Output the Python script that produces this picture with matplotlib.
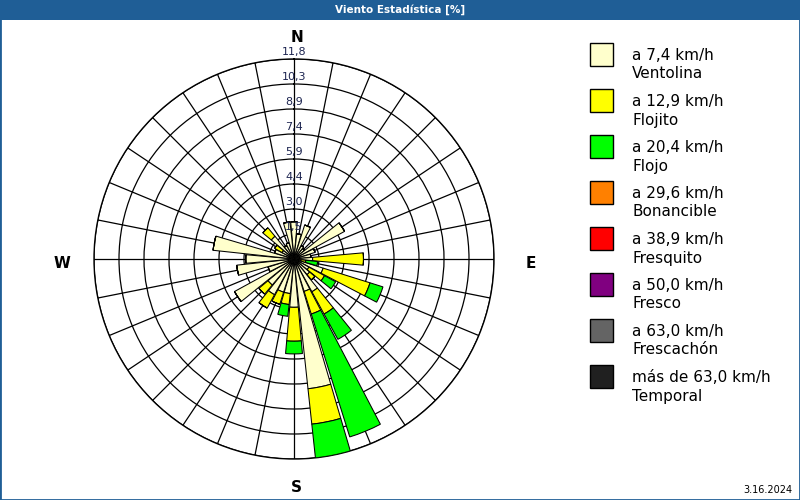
import numpy as np
import matplotlib
matplotlib.use("Agg")
import matplotlib.pyplot as plt
from matplotlib.patches import Rectangle

# 32 directions, bearing in degrees (clockwise from N)
bearings = np.arange(32) * 11.25

# percent per speed class (stacked)
ventolina = [2.2, 1.5, 2.1, 0.9, 0.8, 3.4, 1.3, 1.0,
             1.1, 0.4, 1.8, 1.0, 1.2, 2.2, 2.0, 7.7,
             2.85, 2.05, 2.05, 2.4, 2.0, 4.0, 1.6, 3.4,
             2.85, 4.8, 1.2, 0.8, 1.75, 0.9, 1.0, 2.2]
flojito = [0, 0, 0, 0, 0, 0, 0, 0,
           3.0, 0.3, 2.9, 1.05, 0.4, 1.5, 1.4, 2.1,
           2.0, 0.65, 0.75, 0.9, 0.7, 0, 0, 0,
           0, 0, 0, 0.5, 0.65, 0, 0, 0]
flojo = [0, 0, 0, 0, 0, 0, 0, 0,
         0, 0.7, 0.8, 0.75, 0, 1.7, 7.6, 2.0,
         0.75, 0.7, 0, 0, 0, 0, 0, 0,
         0, 0, 0, 0, 0, 0, 0, 0]

ring_values = [1.475, 2.95, 4.425, 5.9, 7.375, 8.85, 10.325, 11.8]
ring_labels = ["1,5", "3,0", "4,4", "5,9", "7,4", "8,9", "10,3", "11,8"]

legend_speeds = ["a 7,4 km/h", "a 12,9 km/h", "a 20,4 km/h", "a 29,6 km/h",
                 "a 38,9 km/h", "a 50,0 km/h", "a 63,0 km/h", "más de 63,0 km/h"]
legend_names = ["Ventolina", "Flojito", "Flojo", "Bonancible",
                "Fresquito", "Fresco", "Frescachón", "Temporal"]
legend_colors = ["#FFFFCC", "#FFFF00", "#00FF00", "#FF8000",
                 "#FF0000", "#800080", "#646464", "#202020"]

title_blue = "#1f5e96"

fig = plt.figure(figsize=(8, 5), dpi=100)
fig.patch.set_facecolor("white")

# title bar and frame
fig.patches.append(Rectangle((0, 0.96), 1, 0.04, transform=fig.transFigure,
                             facecolor=title_blue, edgecolor="none", zorder=0))
fig.patches.append(Rectangle((0, 0), 1, 1, transform=fig.transFigure,
                             fill=False, edgecolor=title_blue, linewidth=2, zorder=5))
fig.text(0.5, 0.98, "Viento Estadística [%]", color="white", fontsize=7.5,
         fontweight="bold", ha="center", va="center")

ax = fig.add_axes([0.1175, 0.082, 0.5, 0.8], projection="polar")
ax.set_theta_zero_location("N")
ax.set_theta_direction(-1)
ax.set_ylim(0, 11.8)

theta = np.deg2rad(bearings)
width = np.deg2rad(10.2)
bottom = np.zeros(32)
for vals, col in zip([ventolina, flojito, flojo], legend_colors[:3]):
    vals = np.array(vals)
    ax.bar(theta, vals, width=width, bottom=bottom, color=col,
           edgecolor="black", linewidth=0.75, zorder=3)
    bottom = bottom + vals

ax.set_xticks(np.deg2rad(np.arange(0, 360, 11.25)))
ax.set_xticklabels([])
ax.set_yticks(ring_values)
ax.set_yticklabels([])
ax.grid(True, color="black", linewidth=0.9)
ax.set_axisbelow(True)
ax.spines["polar"].set_color("black")
ax.spines["polar"].set_linewidth(1.0)

for r, lab in zip(ring_values, ring_labels):
    ax.text(0, r + 0.1, lab, ha="center", va="bottom", fontsize=8,
            color="#1c2450", zorder=6)

for lab, x, y in [("N", 0.507, 1.055), ("S", 0.505, -0.072),
                  ("W", -0.08, 0.4875), ("E", 1.0925, 0.4875)]:
    ax.text(x, y, lab, transform=ax.transAxes, ha="center", va="center",
            fontsize=11, fontweight="bold")

# legend
for i, (sp, nm, col) in enumerate(zip(legend_speeds, legend_names, legend_colors)):
    top = 43 + i * 46
    fig.patches.append(Rectangle((590 / 800, 1 - (top + 23) / 500), 23 / 800, 23 / 500,
                                 transform=fig.transFigure, facecolor=col,
                                 edgecolor="black", linewidth=1))
    fig.text(632 / 800, 1 - (top + 13) / 500, sp, fontsize=11, va="center", ha="left")
    fig.text(632 / 800, 1 - (top + 31) / 500, nm, fontsize=11, va="center", ha="left")

fig.text(792 / 800, 1 - 490 / 500, "3.16.2024", fontsize=7, ha="right", va="center")

fig.savefig("out.png", dpi=100)
